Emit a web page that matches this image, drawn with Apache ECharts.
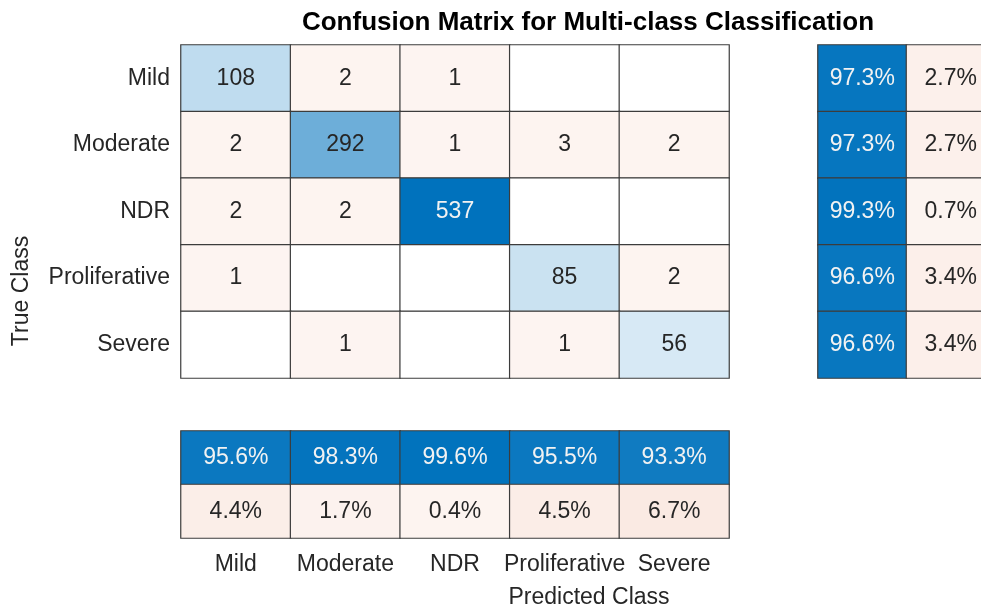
<!DOCTYPE html>
<html>
<head>
<meta charset="utf-8">
<script src="https://cdn.jsdelivr.net/npm/echarts@6/dist/echarts.min.js"></script>
<style>
  html, body { margin: 0; background: #fff; }
  #chart { width: 981px; height: 611px; }
</style>
</head>
<body>
<div id="chart"></div>
<script>
const classes = ['Mild', 'Moderate', 'NDR', 'Proliferative', 'Severe'];
// rows = true class, columns = predicted class
const counts = [
  [108, 2, 1, 0, 0],
  [2, 292, 1, 3, 2],
  [2, 2, 537, 0, 0],
  [1, 0, 0, 85, 2],
  [0, 1, 0, 1, 56]
];
// row summary (per true class)
const rowCorrect = [97.3, 97.3, 99.3, 96.6, 96.6];
const rowWrong = [2.7, 2.7, 0.7, 3.4, 3.4];
// column summary (per predicted class)
const colCorrect = [95.6, 98.3, 99.6, 95.5, 93.3];
const colWrong = [4.4, 1.7, 0.4, 4.5, 6.7];

const FONT = '"Liberation Sans", Arial, Helvetica, sans-serif';
const TEXT = '#262626';
const BLUE = [0, 114, 189];
const ORANGE = [217, 83, 25];
const maxCount = Math.max(...counts.map(r => Math.max(...r)));

function mix(base, t) {
  const c = base.map(b => Math.round(255 - (255 - b) * t));
  return 'rgb(' + c.join(',') + ')';
}

function cell(x, y, v, good, frac, text) {
  if (!v) {
    return { value: [x, y, 0], itemStyle: { color: '#ffffff' }, label: { formatter: '' } };
  }
  const t = 0.06 + 0.94 * frac;
  return {
    value: [x, y, v],
    itemStyle: { color: mix(good ? BLUE : ORANGE, t) },
    label: { formatter: text, color: good && t > 0.7 ? '#f2f2f2' : TEXT }
  };
}

const mainData = [];
counts.forEach((row, i) => {
  row.forEach((v, j) => {
    mainData.push(cell(j, i, v, i === j, v / maxCount, String(v)));
  });
});

const rowData = [];
rowCorrect.forEach((p, i) => {
  rowData.push(cell(0, i, p, true, p / 100, p.toFixed(1) + '%'));
  rowData.push(cell(1, i, rowWrong[i], false, rowWrong[i] / 100, rowWrong[i].toFixed(1) + '%'));
});

const colData = [];
colCorrect.forEach((p, j) => {
  colData.push(cell(j, 0, p, true, p / 100, p.toFixed(1) + '%'));
  colData.push(cell(j, 1, colWrong[j], false, colWrong[j] / 100, colWrong[j].toFixed(1) + '%'));
});

const hidden = { show: false };
function catAxis(data, grid, extra) {
  return Object.assign({
    type: 'category',
    data: data,
    gridIndex: grid,
    axisLine: hidden,
    axisTick: hidden,
    splitLine: hidden,
    axisLabel: hidden
  }, extra || {});
}

const labelStyle = { show: true, color: TEXT, fontSize: 23, fontFamily: FONT };

const heat = (data, xi, yi) => ({
  type: 'heatmap',
  xAxisIndex: xi,
  yAxisIndex: yi,
  data: data,
  label: { show: true, fontSize: 23, fontFamily: FONT, color: TEXT },
  itemStyle: { borderColor: '#3c3c3c', borderWidth: 1.2 },
  emphasis: { disabled: true }
});

const chart = echarts.init(document.getElementById('chart'));
chart.setOption({
  backgroundColor: '#ffffff',
  animation: false,
  grid: [
    { left: 181, top: 45, width: 548, height: 333, outerBoundsMode: 'none' },
    { left: 818, top: 45, width: 177, height: 333, outerBoundsMode: 'none' },
    { left: 181, top: 431, width: 548, height: 107, outerBoundsMode: 'none' }
  ],
  xAxis: [
    catAxis(classes, 0),
    catAxis(['correct', 'wrong'], 1),
    catAxis(classes, 2, {
      position: 'bottom',
      axisLabel: Object.assign({ interval: 0, margin: 15 }, labelStyle)
    })
  ],
  yAxis: [
    catAxis(classes, 0, {
      inverse: true,
      axisLabel: Object.assign({ interval: 0, margin: 11 }, labelStyle)
    }),
    catAxis(classes, 1, { inverse: true }),
    catAxis(['correct', 'wrong'], 2, { inverse: true })
  ],
  series: [heat(mainData, 0, 0), heat(rowData, 1, 1), heat(colData, 2, 2)],
  graphic: [
    {
      type: 'text', x: 588, y: 23,
      style: {
        text: 'Confusion Matrix for Multi-class Classification',
        font: 'bold 26px ' + FONT, fill: '#000000',
        textAlign: 'center', textVerticalAlign: 'middle'
      }
    },
    {
      type: 'text', x: 22, y: 291, rotation: Math.PI / 2,
      style: {
        text: 'True Class', font: '23px ' + FONT, fill: TEXT,
        textAlign: 'center', textVerticalAlign: 'middle'
      }
    },
    {
      type: 'text', x: 589, y: 598,
      style: {
        text: 'Predicted Class', font: '23px ' + FONT, fill: TEXT,
        textAlign: 'center', textVerticalAlign: 'middle'
      }
    }
  ]
});
</script>
</body>
</html>
